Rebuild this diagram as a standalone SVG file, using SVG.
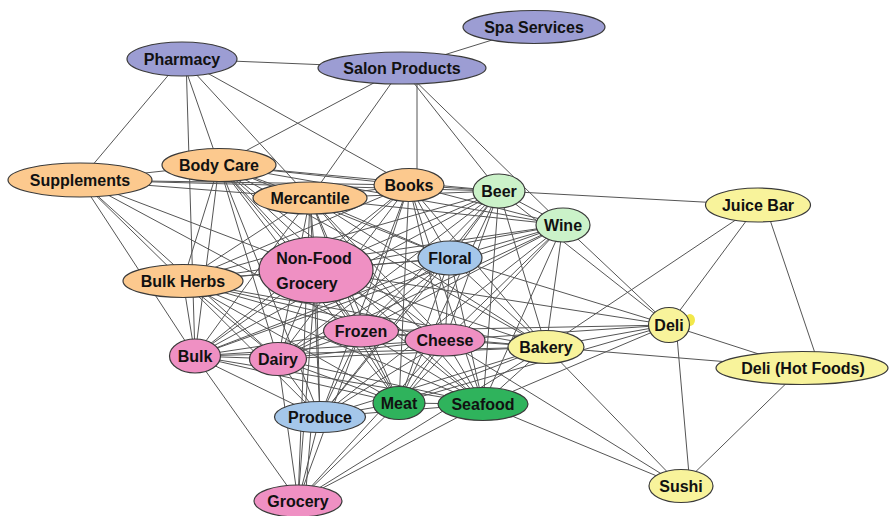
<svg xmlns="http://www.w3.org/2000/svg" width="889" height="516" viewBox="0 0 889 516">
<style>
.e{stroke:#555;stroke-width:1;fill:none}
.n{stroke:#3a3a3a;stroke-width:1.2}
.t{font-family:"Liberation Sans",Arial,sans-serif;font-weight:bold;font-size:16px;fill:#111;text-anchor:middle}
.pu{fill:#9c9dd3}.or{fill:#fcc98e}.pk{fill:#ef90c3}.bl{fill:#a5c7ea}.lg{fill:#cbf2c9}.gr{fill:#2fb35c}.ye{fill:#f8f39b}
</style>
<rect width="889" height="516" fill="#fff"/>
<g id="connectors">
<line class="e" x1="182" y1="59" x2="402" y2="68"/>
<line class="e" x1="402" y1="68" x2="534" y2="27"/>
<line class="e" x1="182" y1="59" x2="80" y2="180"/>
<line class="e" x1="182" y1="59" x2="219" y2="165"/>
<line class="e" x1="186" y1="59" x2="195" y2="356"/>
<line class="e" x1="182" y1="59" x2="310" y2="198"/>
<line class="e" x1="182" y1="59" x2="409" y2="185"/>
<line class="e" x1="402" y1="68" x2="219" y2="165"/>
<line class="e" x1="402" y1="68" x2="310" y2="198"/>
<line class="e" x1="417" y1="68" x2="417" y2="185"/>
<line class="e" x1="402" y1="68" x2="499" y2="191"/>
<line class="e" x1="402" y1="68" x2="563" y2="225"/>
<line class="e" x1="499" y1="191" x2="758" y2="205"/>
<line class="e" x1="758" y1="205" x2="546" y2="347"/>
<line class="e" x1="758" y1="205" x2="669" y2="325"/>
<line class="e" x1="765" y1="205" x2="820" y2="368"/>
<line class="e" x1="669" y1="325" x2="802" y2="368"/>
<line class="e" x1="676" y1="325" x2="690" y2="486"/>
<line class="e" x1="802" y1="368" x2="681" y2="486"/>
<line class="e" x1="546" y1="347" x2="802" y2="368"/>
<line class="e" x1="546" y1="347" x2="681" y2="486"/>
<line class="e" x1="483" y1="404" x2="681" y2="486"/>
<line class="e" x1="445" y1="340" x2="681" y2="486"/>
<line class="e" x1="669" y1="325" x2="450" y2="258"/>
<line class="e" x1="669" y1="325" x2="563" y2="225"/>
<line class="e" x1="669" y1="325" x2="499" y2="191"/>
<line class="e" x1="669" y1="325" x2="445" y2="340"/>
<line class="e" x1="669" y1="325" x2="546" y2="347"/>
<line class="e" x1="669" y1="325" x2="483" y2="404"/>
<line class="e" x1="669" y1="325" x2="361" y2="331"/>
<line class="e" x1="669" y1="325" x2="316" y2="270"/>
<line class="e" x1="669" y1="325" x2="399" y2="403"/>
<line class="e" x1="80" y1="180" x2="219" y2="165"/>
<line class="e" x1="80" y1="180" x2="310" y2="198"/>
<line class="e" x1="80" y1="180" x2="409" y2="185"/>
<line class="e" x1="80" y1="180" x2="499" y2="191"/>
<line class="e" x1="80" y1="180" x2="183" y2="281"/>
<line class="e" x1="80" y1="180" x2="195" y2="356"/>
<line class="e" x1="80" y1="180" x2="316" y2="270"/>
<line class="e" x1="80" y1="180" x2="278" y2="359"/>
<line class="e" x1="80" y1="180" x2="361" y2="331"/>
<line class="e" x1="298" y1="501" x2="195" y2="356"/>
<line class="e" x1="298" y1="501" x2="320" y2="417"/>
<line class="e" x1="305" y1="501" x2="312" y2="417"/>
<line class="e" x1="298" y1="501" x2="278" y2="359"/>
<line class="e" x1="298" y1="501" x2="316" y2="270"/>
<line class="e" x1="298" y1="501" x2="361" y2="331"/>
<line class="e" x1="298" y1="501" x2="399" y2="403"/>
<line class="e" x1="298" y1="501" x2="483" y2="404"/>
<line class="e" x1="298" y1="501" x2="445" y2="340"/>
<line class="e" x1="298" y1="501" x2="546" y2="347"/>
<line class="e" x1="298" y1="501" x2="310" y2="198"/>
<line class="e" x1="219" y1="165" x2="310" y2="198"/>
<line class="e" x1="219" y1="165" x2="409" y2="185"/>
<line class="e" x1="219" y1="165" x2="499" y2="191"/>
<line class="e" x1="219" y1="165" x2="563" y2="225"/>
<line class="e" x1="219" y1="165" x2="316" y2="270"/>
<line class="e" x1="219" y1="165" x2="450" y2="258"/>
<line class="e" x1="219" y1="165" x2="183" y2="281"/>
<line class="e" x1="219" y1="165" x2="361" y2="331"/>
<line class="e" x1="219" y1="165" x2="445" y2="340"/>
<line class="e" x1="219" y1="165" x2="195" y2="356"/>
<line class="e" x1="219" y1="165" x2="278" y2="359"/>
<line class="e" x1="219" y1="165" x2="546" y2="347"/>
<line class="e" x1="219" y1="165" x2="399" y2="403"/>
<line class="e" x1="219" y1="165" x2="483" y2="404"/>
<line class="e" x1="219" y1="165" x2="320" y2="417"/>
<line class="e" x1="310" y1="198" x2="409" y2="185"/>
<line class="e" x1="310" y1="198" x2="499" y2="191"/>
<line class="e" x1="310" y1="198" x2="563" y2="225"/>
<line class="e" x1="310" y1="198" x2="316" y2="270"/>
<line class="e" x1="310" y1="198" x2="450" y2="258"/>
<line class="e" x1="310" y1="198" x2="183" y2="281"/>
<line class="e" x1="310" y1="198" x2="361" y2="331"/>
<line class="e" x1="310" y1="198" x2="445" y2="340"/>
<line class="e" x1="310" y1="198" x2="195" y2="356"/>
<line class="e" x1="310" y1="198" x2="278" y2="359"/>
<line class="e" x1="310" y1="198" x2="546" y2="347"/>
<line class="e" x1="310" y1="198" x2="399" y2="403"/>
<line class="e" x1="310" y1="198" x2="483" y2="404"/>
<line class="e" x1="310" y1="198" x2="320" y2="417"/>
<line class="e" x1="409" y1="185" x2="499" y2="191"/>
<line class="e" x1="409" y1="185" x2="563" y2="225"/>
<line class="e" x1="409" y1="185" x2="316" y2="270"/>
<line class="e" x1="409" y1="185" x2="450" y2="258"/>
<line class="e" x1="409" y1="185" x2="183" y2="281"/>
<line class="e" x1="409" y1="185" x2="361" y2="331"/>
<line class="e" x1="409" y1="185" x2="445" y2="340"/>
<line class="e" x1="409" y1="185" x2="195" y2="356"/>
<line class="e" x1="409" y1="185" x2="278" y2="359"/>
<line class="e" x1="409" y1="185" x2="546" y2="347"/>
<line class="e" x1="409" y1="185" x2="399" y2="403"/>
<line class="e" x1="409" y1="185" x2="483" y2="404"/>
<line class="e" x1="409" y1="185" x2="320" y2="417"/>
<line class="e" x1="499" y1="191" x2="563" y2="225"/>
<line class="e" x1="499" y1="191" x2="316" y2="270"/>
<line class="e" x1="499" y1="191" x2="450" y2="258"/>
<line class="e" x1="499" y1="191" x2="183" y2="281"/>
<line class="e" x1="499" y1="191" x2="361" y2="331"/>
<line class="e" x1="499" y1="191" x2="445" y2="340"/>
<line class="e" x1="499" y1="191" x2="195" y2="356"/>
<line class="e" x1="499" y1="191" x2="278" y2="359"/>
<line class="e" x1="499" y1="191" x2="546" y2="347"/>
<line class="e" x1="499" y1="191" x2="399" y2="403"/>
<line class="e" x1="499" y1="191" x2="483" y2="404"/>
<line class="e" x1="499" y1="191" x2="320" y2="417"/>
<line class="e" x1="563" y1="225" x2="316" y2="270"/>
<line class="e" x1="563" y1="225" x2="450" y2="258"/>
<line class="e" x1="563" y1="225" x2="183" y2="281"/>
<line class="e" x1="563" y1="225" x2="361" y2="331"/>
<line class="e" x1="563" y1="225" x2="445" y2="340"/>
<line class="e" x1="563" y1="225" x2="195" y2="356"/>
<line class="e" x1="563" y1="225" x2="278" y2="359"/>
<line class="e" x1="563" y1="225" x2="546" y2="347"/>
<line class="e" x1="563" y1="225" x2="399" y2="403"/>
<line class="e" x1="563" y1="225" x2="483" y2="404"/>
<line class="e" x1="563" y1="225" x2="320" y2="417"/>
<line class="e" x1="316" y1="270" x2="450" y2="258"/>
<line class="e" x1="316" y1="270" x2="183" y2="281"/>
<line class="e" x1="316" y1="270" x2="361" y2="331"/>
<line class="e" x1="316" y1="270" x2="445" y2="340"/>
<line class="e" x1="316" y1="270" x2="195" y2="356"/>
<line class="e" x1="316" y1="270" x2="278" y2="359"/>
<line class="e" x1="316" y1="270" x2="546" y2="347"/>
<line class="e" x1="316" y1="270" x2="399" y2="403"/>
<line class="e" x1="316" y1="270" x2="483" y2="404"/>
<line class="e" x1="316" y1="270" x2="320" y2="417"/>
<line class="e" x1="450" y1="258" x2="183" y2="281"/>
<line class="e" x1="450" y1="258" x2="361" y2="331"/>
<line class="e" x1="450" y1="258" x2="445" y2="340"/>
<line class="e" x1="450" y1="258" x2="195" y2="356"/>
<line class="e" x1="450" y1="258" x2="278" y2="359"/>
<line class="e" x1="450" y1="258" x2="546" y2="347"/>
<line class="e" x1="450" y1="258" x2="399" y2="403"/>
<line class="e" x1="450" y1="258" x2="483" y2="404"/>
<line class="e" x1="450" y1="258" x2="320" y2="417"/>
<line class="e" x1="183" y1="281" x2="361" y2="331"/>
<line class="e" x1="183" y1="281" x2="445" y2="340"/>
<line class="e" x1="183" y1="281" x2="195" y2="356"/>
<line class="e" x1="183" y1="281" x2="278" y2="359"/>
<line class="e" x1="183" y1="281" x2="546" y2="347"/>
<line class="e" x1="183" y1="281" x2="399" y2="403"/>
<line class="e" x1="183" y1="281" x2="483" y2="404"/>
<line class="e" x1="183" y1="281" x2="320" y2="417"/>
<line class="e" x1="361" y1="331" x2="445" y2="340"/>
<line class="e" x1="361" y1="331" x2="195" y2="356"/>
<line class="e" x1="361" y1="331" x2="278" y2="359"/>
<line class="e" x1="361" y1="331" x2="546" y2="347"/>
<line class="e" x1="361" y1="331" x2="399" y2="403"/>
<line class="e" x1="361" y1="331" x2="483" y2="404"/>
<line class="e" x1="361" y1="331" x2="320" y2="417"/>
<line class="e" x1="445" y1="340" x2="195" y2="356"/>
<line class="e" x1="445" y1="340" x2="278" y2="359"/>
<line class="e" x1="445" y1="340" x2="546" y2="347"/>
<line class="e" x1="445" y1="340" x2="399" y2="403"/>
<line class="e" x1="445" y1="340" x2="483" y2="404"/>
<line class="e" x1="445" y1="340" x2="320" y2="417"/>
<line class="e" x1="195" y1="356" x2="278" y2="359"/>
<line class="e" x1="195" y1="356" x2="546" y2="347"/>
<line class="e" x1="195" y1="356" x2="399" y2="403"/>
<line class="e" x1="195" y1="356" x2="483" y2="404"/>
<line class="e" x1="195" y1="356" x2="320" y2="417"/>
<line class="e" x1="278" y1="359" x2="546" y2="347"/>
<line class="e" x1="278" y1="359" x2="399" y2="403"/>
<line class="e" x1="278" y1="359" x2="483" y2="404"/>
<line class="e" x1="278" y1="359" x2="320" y2="417"/>
<line class="e" x1="546" y1="347" x2="399" y2="403"/>
<line class="e" x1="546" y1="347" x2="483" y2="404"/>
<line class="e" x1="546" y1="347" x2="320" y2="417"/>
<line class="e" x1="399" y1="403" x2="483" y2="404"/>
<line class="e" x1="399" y1="403" x2="320" y2="417"/>
<line class="e" x1="483" y1="404" x2="320" y2="417"/>
</g>
<g id="node-spa-services"><ellipse class="n pu" cx="534" cy="27" rx="71" ry="16.5"/><text class="t" x="534" y="32.5">Spa Services</text></g>
<g id="node-pharmacy"><ellipse class="n pu" cx="182" cy="59" rx="55" ry="17"/><text class="t" x="182" y="64.5">Pharmacy</text></g>
<g id="node-salon-products"><ellipse class="n pu" cx="402" cy="68" rx="84" ry="16"/><text class="t" x="402" y="73.5">Salon Products</text></g>
<g id="node-body-care"><ellipse class="n or" cx="219" cy="165" rx="57" ry="16.5"/><text class="t" x="219" y="170.5">Body Care</text></g>
<g id="node-supplements"><ellipse class="n or" cx="80" cy="180" rx="72" ry="17"/><text class="t" x="80" y="185.5">Supplements</text></g>
<g id="node-mercantile"><ellipse class="n or" cx="310" cy="198" rx="57" ry="16"/><text class="t" x="310" y="203.5">Mercantile</text></g>
<g id="node-books"><ellipse class="n or" cx="409" cy="185" rx="35" ry="16.5"/><text class="t" x="409" y="190.5">Books</text></g>
<g id="node-beer"><ellipse class="n lg" cx="499" cy="191" rx="26" ry="17"/><text class="t" x="499" y="196.5">Beer</text></g>
<g id="node-wine"><ellipse class="n lg" cx="563" cy="225" rx="27" ry="17"/><text class="t" x="563" y="230.5">Wine</text></g>
<g id="node-juice-bar"><ellipse class="n ye" cx="758" cy="205" rx="52.5" ry="17"/><text class="t" x="758" y="210.5">Juice Bar</text></g>
<g id="node-non-food-grocery"><ellipse class="n pk" cx="316" cy="270" rx="57" ry="33"/><text class="t" x="314" y="264">Non-Food</text><text class="t" x="307" y="289">Grocery</text></g>
<g id="node-floral"><ellipse class="n bl" cx="450" cy="258" rx="32" ry="17"/><text class="t" x="450" y="263.5">Floral</text></g>
<g id="node-bulk-herbs"><ellipse class="n or" cx="183" cy="281" rx="60" ry="16.5"/><text class="t" x="183" y="286.5">Bulk Herbs</text></g>
<g id="node-frozen"><ellipse class="n pk" cx="361" cy="331" rx="37.5" ry="16"/><text class="t" x="361" y="336.5">Frozen</text></g>
<g id="node-cheese"><ellipse class="n pk" cx="445" cy="340" rx="40" ry="16"/><text class="t" x="445" y="345.5">Cheese</text></g>
<g id="node-bulk"><ellipse class="n pk" cx="195" cy="356" rx="25.5" ry="17"/><text class="t" x="195" y="361.5">Bulk</text></g>
<g id="node-dairy"><ellipse class="n pk" cx="278" cy="359" rx="28.5" ry="16.5"/><text class="t" x="278" y="364.5">Dairy</text></g>
<g id="node-bakery"><ellipse class="n ye" cx="546" cy="347" rx="38" ry="16.5"/><text class="t" x="546" y="352.5">Bakery</text></g>
<g id="node-deli"><ellipse cx="690" cy="320" rx="5" ry="6" fill="#f2e84a"/><ellipse class="n ye" cx="669" cy="325" rx="20.5" ry="17.5"/><text class="t" x="669" y="330.5">Deli</text></g>
<g id="node-deli-hot-foods"><ellipse class="n ye" cx="802" cy="368" rx="86" ry="16.5"/><text class="t" x="803" y="373.5">Deli (Hot Foods)</text></g>
<g id="node-meat"><ellipse class="n gr" cx="399" cy="403" rx="26" ry="16.5"/><text class="t" x="399" y="408.5">Meat</text></g>
<g id="node-seafood"><ellipse class="n gr" cx="483" cy="404" rx="45" ry="16.5"/><text class="t" x="483" y="409.5">Seafood</text></g>
<g id="node-produce"><ellipse class="n bl" cx="320" cy="417" rx="45.5" ry="15.5"/><text class="t" x="320" y="422.5">Produce</text></g>
<g id="node-grocery"><ellipse class="n pk" cx="298" cy="501" rx="44" ry="16"/><text class="t" x="298" y="506.5">Grocery</text></g>
<g id="node-sushi"><ellipse class="n ye" cx="681" cy="486" rx="32" ry="16.5"/><text class="t" x="681" y="491.5">Sushi</text></g>
</svg>
